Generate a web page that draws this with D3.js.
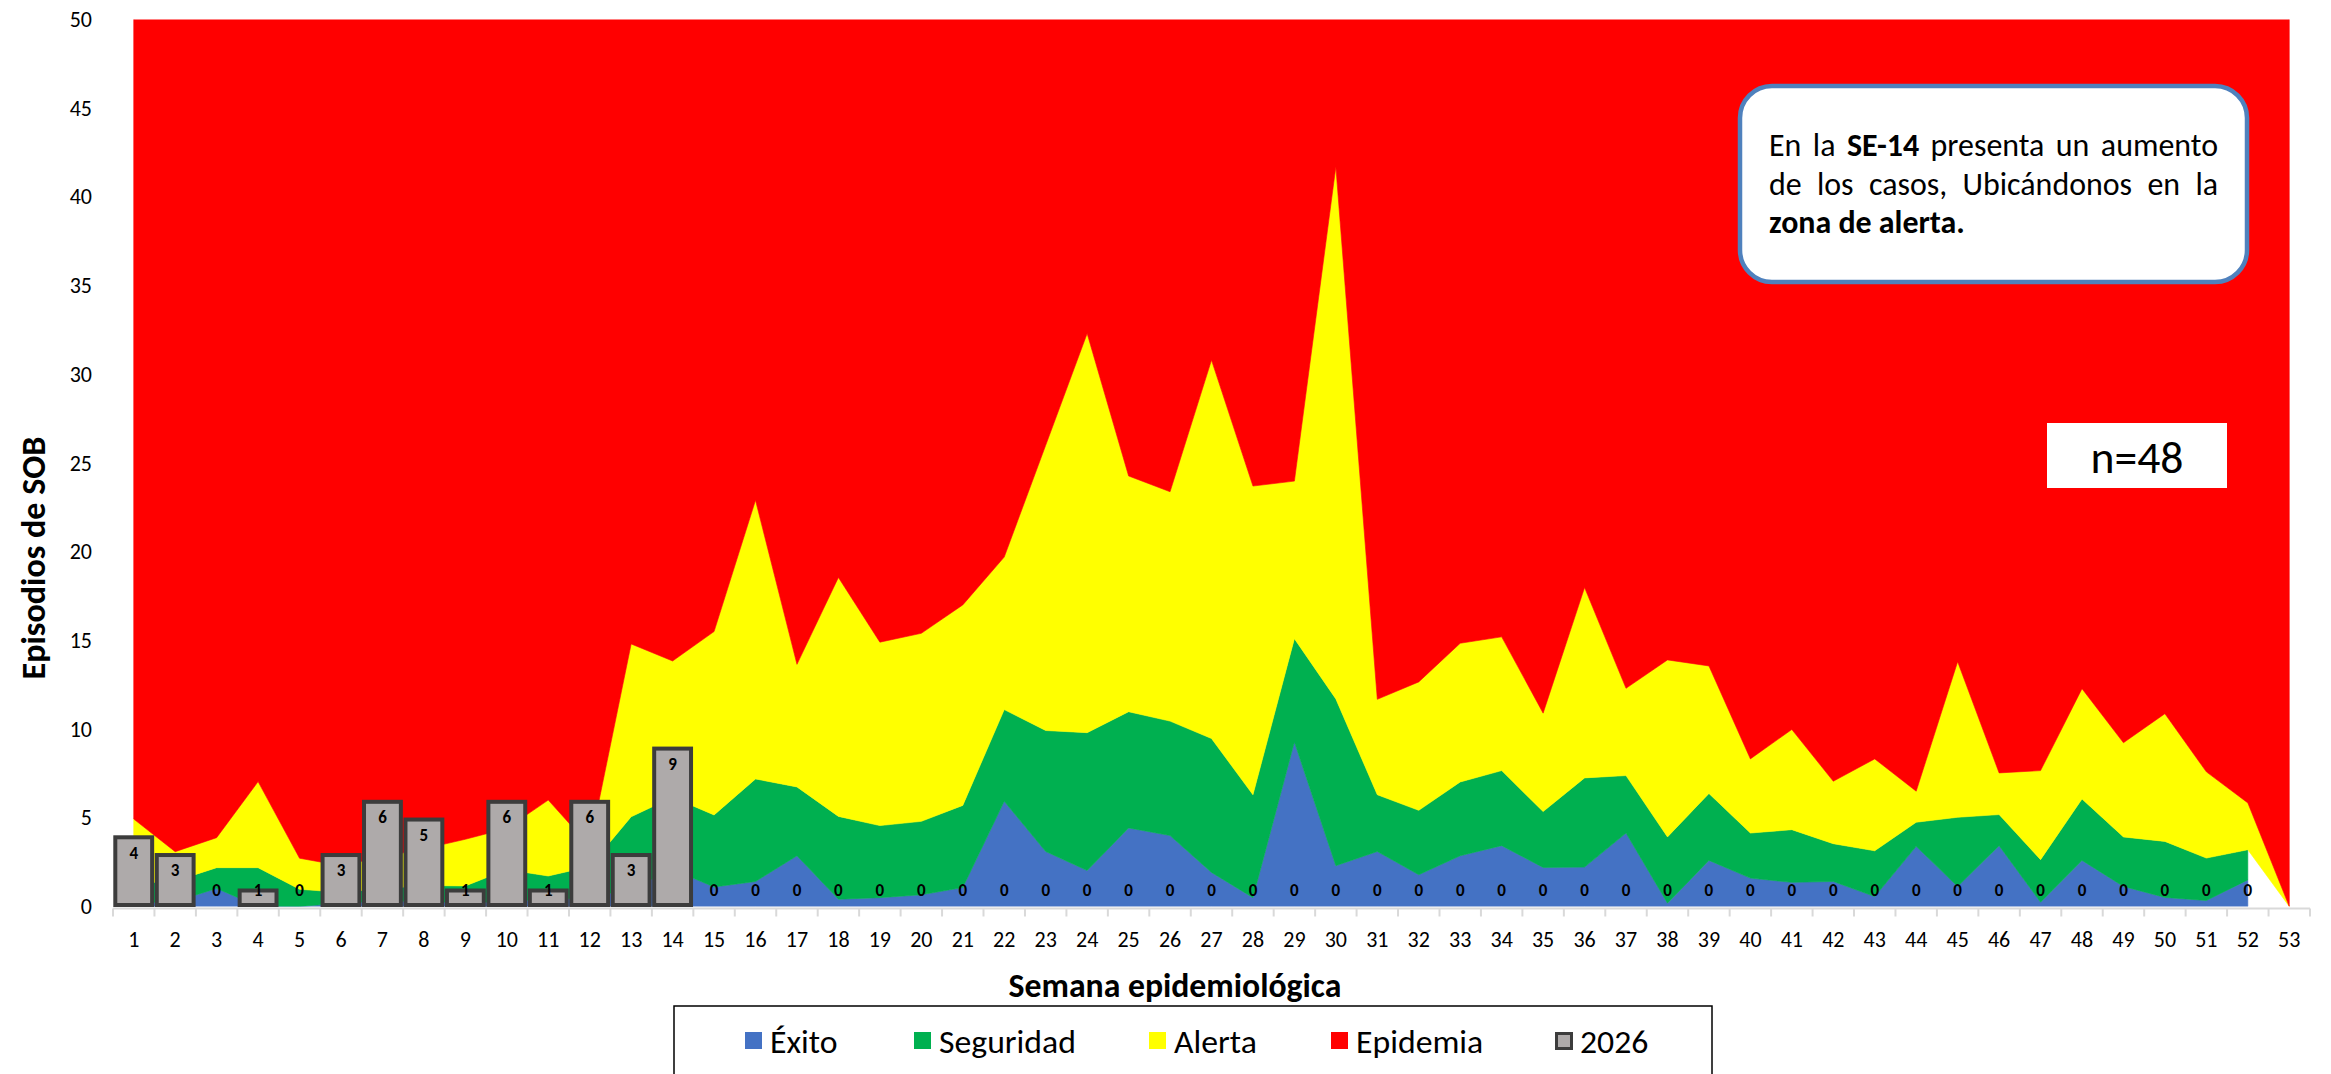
<!DOCTYPE html>
<html><head><meta charset="utf-8">
<script src="https://cdn.jsdelivr.net/npm/d3@7"></script>
<style>
body{margin:0;background:#fff}
svg{display:block}
text{font-family: Carlito, Calibri, Lato, "Open Sans", sans-serif; fill:#000}
</style>
</head><body>
<svg id="c" width="2331" height="1074"></svg>
<script>
// ---------- DATA ----------
const weeks = [1,2,3,4,5,6,7,8,9,10,11,12,13,14,15,16,17,18,19,20,21,22,23,24,25,26,27,
  28,29,30,31,32,33,34,35,36,37,38,39,40,41,42,43,44,45,46,47,48,49,50,51,52,53];
const exito = [0.2,0.28,1.02,0,0,0.2,0.3,0.3,0.2,0.3,0.4,0.5,1.0,2.08,1.1,1.41,2.86,0.41,0.5,0.66,
  1.07,5.93,3.1,2.03,4.43,4.0,1.92,0.5,9.27,2.3,3.1,1.79,2.86,3.43,2.2,2.22,4.14,0.19,2.6,1.6,
  1.36,1.41,0.56,3.39,1.13,3.43,0.24,2.6,1.13,0.51,0.34,1.5];
const seguridad = [1.1,1.15,1.17,2.19,0.97,0.6,0.7,0.88,0.96,1.78,1.32,1.76,4.06,4.08,4.06,5.78,3.88,
  4.67,4.06,4.14,4.63,5.17,6.82,7.77,6.55,6.45,7.55,5.8,5.83,9.4,3.2,3.63,4.16,4.23,3.15,5.03,
  3.24,3.73,3.77,2.54,2.97,2.13,2.58,1.36,3.9,1.75,2.4,3.46,2.79,3.16,2.39,1.7];
const alerta = [3.63,1.66,1.69,4.85,1.75,1.5,1.8,2.07,2.63,2.32,4.28,1.14,9.74,7.68,10.34,15.71,6.91,
  13.47,10.34,10.6,11.3,8.6,16.08,22.5,13.29,12.93,21.33,17.4,8.88,30.0,5.38,7.24,7.82,7.54,5.55,
  10.73,4.92,9.98,7.19,4.18,5.65,3.52,5.18,1.75,8.77,2.35,5.02,6.22,5.31,7.2,4.86,2.64,0];
const epidemia = [50,50,50,50,50,50,50,50,50,50,50,50,50,50,50,50,50,50,50,50,50,50,50,50,50,50,50,
  50,50,50,50,50,50,50,50,50,50,50,50,50,50,50,50,50,50,50,50,50,50,50,50,50,50];
const casos2026 = [4,3,0,1,0,3,6,5,1,6,1,6,3,9,0,0,0,0,0,0,0,0,0,0,0,0,0,0,0,0,0,0,0,0,0,0,0,0,
  0,0,0,0,0,0,0,0,0,0,0,0,0,0];
const yTicks = [0,5,10,15,20,25,30,35,40,45,50];
const seriesKeys = ["exito","seguridad","alerta","epidemia"];
const legendLabels = ["Éxito","Seguridad","Alerta","Epidemia","2026"];
const xTitle = "Semana epidemiológica";
const yTitle = "Episodios de SOB";
const nota1 = [["En",0],["la",0],["SE-14",1],["presenta",0],["un",0],["aumento",0]];
const nota2 = [["de",0],["los",0],["casos,",0],["Ubicándonos",0],["en",0],["la",0]];
const nota3 = "zona de alerta.";
const nLabel = "n=48";

// ---------- STYLE / LAYOUT ----------
const colors = {exito:"#4472C4", seguridad:"#00B050", alerta:"#FFFF00", epidemia:"#FF0000"};
const barFill = "#AEAAAA", barStroke = "#3C3C3C";
const P = {left:113, right:2310, top:19.5, bottom:906.5};

const svg = d3.select("#c");
const x = d3.scaleBand().domain(weeks).range([P.left, P.right]).padding(0);
const bw = x.bandwidth();
const cx = w => x(w) + bw/2;
const y = d3.scaleLinear().domain([0,50]).range([P.bottom, P.top]);

svg.append("defs").append("clipPath").attr("id","plotclip")
  .append("rect").attr("x",P.left).attr("y",P.top).attr("width",P.right-P.left).attr("height",P.bottom-P.top);

const rows = weeks.map((w,i)=>({week:w,
  exito: exito[i] ?? null, seguridad: seguridad[i] ?? null,
  alerta: alerta[i] ?? null, epidemia: epidemia[i] ?? null}));
const stacked = d3.stack().keys(seriesKeys).value((d,k)=> d[k]==null ? 0 : d[k])(rows);

const gArea = svg.append("g").attr("clip-path","url(#plotclip)");
stacked.forEach(s=>{
  const area = d3.area()
    .defined(d => d.data[s.key] != null)
    .x(d => cx(d.data.week)).y0(d => y(d[0])).y1(d => y(d[1]));
  gArea.append("path").attr("d", area(s)).attr("fill", colors[s.key])
    .attr("stroke", colors[s.key]).attr("stroke-width",0.6);
});

// x axis line + band-boundary ticks
const axY = P.bottom + 2;
svg.append("line").attr("x1",P.left).attr("x2",P.right).attr("y1",axY).attr("y2",axY)
  .attr("stroke","#D9D9D9").attr("stroke-width",2);
svg.append("g").selectAll("line").data(weeks.concat([null])).join("line")
  .attr("x1", d => d==null ? P.right : x(d)).attr("x2", d => d==null ? P.right : x(d))
  .attr("y1", axY).attr("y2", axY+8).attr("stroke","#D9D9D9").attr("stroke-width",2);

const xAxis = svg.append("g").attr("transform",`translate(0,${P.bottom})`)
  .call(d3.axisBottom(x).tickSize(0).tickPadding(25));
xAxis.select(".domain").remove();
xAxis.selectAll("text").attr("font-size",22).attr("font-family",null).attr("fill","#000");

const yAxis = svg.append("g").attr("transform",`translate(${P.left},0)`)
  .call(d3.axisLeft(y).tickValues(yTicks).tickSize(0).tickPadding(21));
yAxis.select(".domain").remove();
yAxis.selectAll("text").attr("font-size",22).attr("font-family",null).attr("fill","#000");

// bars 2026
const barData = casos2026.map((v,i)=>({week:weeks[i], v}));
svg.append("g").selectAll("rect").data(barData.filter(d=>d.v>0)).join("rect")
  .attr("x", d => x(d.week)+2.3).attr("width", bw-4.6)
  .attr("y", d => y(d.v)+1.75).attr("height", d => (y(0)-1.5) - (y(d.v)+1.75))
  .attr("fill", barFill).attr("stroke", barStroke).attr("stroke-width",4);
svg.append("g").selectAll("text").data(barData).join("text")
  .attr("x", d => cx(d.week)).attr("y", d => Math.min(y(d.v)+17.5, y(0)-16.5))
  .attr("text-anchor","middle").attr("dominant-baseline","central")
  .attr("font-weight","bold").attr("font-size",17).attr("fill","#111")
  .text(d => d.v);

// helper
function fitWidth(sel, target){
  const w = sel.node().getComputedTextLength();
  const fs = parseFloat(sel.attr("font-size"));
  sel.attr("font-size", fs*target/w);
  return fs*target/w;
}

// axis titles
const xt = svg.append("text").attr("x",1175).attr("y",985).attr("text-anchor","middle")
  .attr("dominant-baseline","central").attr("font-weight","bold").attr("font-size",26).text(xTitle);
fitWidth(xt, 333);
const yt = svg.append("text").attr("transform","translate(33,558) rotate(-90)")
  .attr("text-anchor","middle").attr("dominant-baseline","central")
  .attr("font-weight","bold").attr("font-size",26).text(yTitle);
fitWidth(yt, 243);

// legend
svg.append("rect").attr("x",674).attr("y",1006).attr("width",1038).attr("height",120)
  .attr("fill","#fff").attr("stroke","#000").attr("stroke-width",1.5);
const legX = [745, 914, 1149, 1331, 1555];
const legFill = [colors.exito, colors.seguridad, colors.alerta, colors.epidemia, barFill];
const tmp = svg.append("text").attr("font-size",28).text(legendLabels[1]);
const legFs = fitWidth(tmp, 137); tmp.remove();
legendLabels.forEach((lab,i)=>{
  const last = i===4;
  svg.append("rect").attr("x", legX[i]+(last?1.5:0)).attr("y", 1032+(last?1.5:0))
    .attr("width", last?15:17).attr("height", last?15:17)
    .attr("fill", legFill[i]).attr("stroke", last?barStroke:"none").attr("stroke-width", last?3:0);
  svg.append("text").attr("x", legX[i]+25).attr("y",1041).attr("dominant-baseline","central")
    .attr("font-size",legFs).text(lab);
});

// annotation box
svg.append("rect").attr("x",1740).attr("y",86).attr("width",507).attr("height",196).attr("rx",32)
  .attr("fill","#fff").attr("stroke","#4F81BD").attr("stroke-width",4.5);
const tmp3 = svg.append("text").attr("font-size",27).attr("font-weight","bold").text(nota3);
const notaFs = fitWidth(tmp3, 196); tmp3.remove();
function justify(parts, x0, x1, base){
  const els = parts.map(([t,b]) => svg.append("text").attr("y",base).attr("font-size",notaFs)
    .attr("font-weight", b?"bold":"normal").text(t));
  const ws = els.map(e => e.node().getComputedTextLength());
  const gap = (x1 - x0 - d3.sum(ws)) / (parts.length-1);
  let cur = x0;
  els.forEach((e,i)=>{ e.attr("x",cur); cur += ws[i] + gap; });
}
justify(nota1, 1769, 2218, 156);
justify(nota2, 1769, 2218, 194.5);
svg.append("text").attr("x",1769).attr("y",233).attr("font-size",notaFs).attr("font-weight","bold").text(nota3);

// n box
svg.append("rect").attr("x",2047).attr("y",423).attr("width",180).attr("height",65).attr("fill","#fff");
const nt = svg.append("text").attr("x",2137).attr("y",457).attr("text-anchor","middle")
  .attr("dominant-baseline","central").attr("font-size",44).text(nLabel);
fitWidth(nt, 93);
</script>
</body></html>
